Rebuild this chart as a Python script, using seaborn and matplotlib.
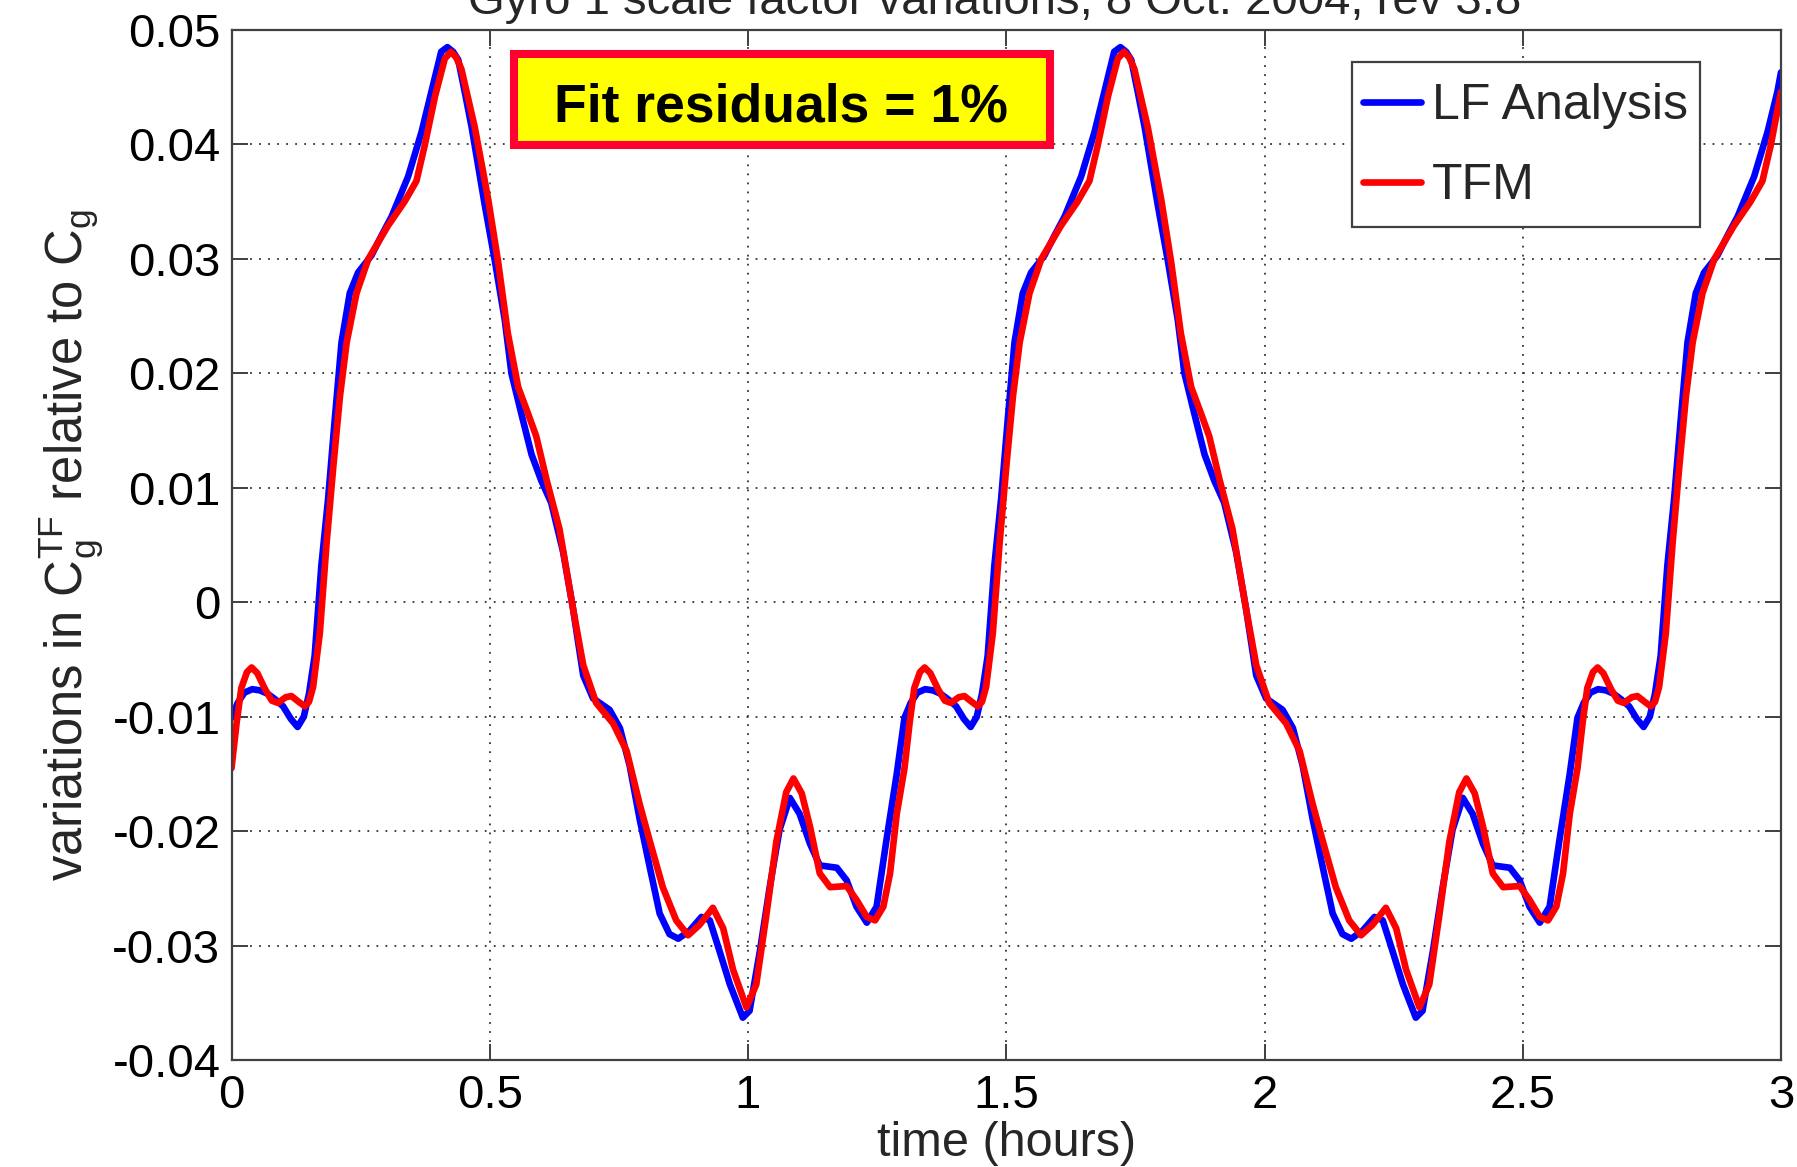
import matplotlib
matplotlib.use("Agg")
import matplotlib.pyplot as plt
import matplotlib.patches as mpatches
import seaborn as sns
import pandas as pd

# ---------------- data ----------------
lf_time = [
    0.000, 0.012, 0.025, 0.040, 0.055, 0.070, 0.085, 0.100, 0.115, 0.128, 0.140, 0.150,
    0.161, 0.174, 0.187, 0.200, 0.213, 0.229, 0.245, 0.271, 0.290, 0.310, 0.342, 0.368,
    0.387, 0.406, 0.418, 0.429, 0.439, 0.452, 0.465, 0.490, 0.510, 0.529, 0.542, 0.561,
    0.581, 0.600, 0.619, 0.642, 0.661, 0.681, 0.700, 0.732, 0.752, 0.771, 0.790, 0.810,
    0.829, 0.848, 0.865, 0.887, 0.910, 0.926, 0.945, 0.965, 0.990, 1.003, 1.023, 1.042,
    1.061, 1.081, 1.100, 1.120, 1.139, 1.172, 1.191, 1.210, 1.230, 1.249, 1.268, 1.288,
    1.303, 1.315, 1.328, 1.343, 1.358, 1.373, 1.388, 1.403, 1.418, 1.431, 1.443, 1.453,
    1.464, 1.477, 1.490, 1.503, 1.516, 1.532, 1.548, 1.574, 1.593, 1.613, 1.645, 1.671,
    1.690, 1.709, 1.721, 1.732, 1.742, 1.755, 1.768, 1.793, 1.813, 1.832, 1.845, 1.864,
    1.884, 1.903, 1.922, 1.945, 1.964, 1.984, 2.003, 2.035, 2.055, 2.074, 2.093, 2.113,
    2.132, 2.151, 2.168, 2.190, 2.213, 2.229, 2.248, 2.268, 2.293, 2.306, 2.326, 2.345,
    2.364, 2.384, 2.403, 2.423, 2.442, 2.475, 2.494, 2.513, 2.533, 2.552, 2.571, 2.591,
    2.606, 2.618, 2.631, 2.646, 2.661, 2.676, 2.691, 2.706, 2.721, 2.734, 2.746, 2.756,
    2.767, 2.780, 2.793, 2.806, 2.819, 2.835, 2.851, 2.877, 2.896, 2.916, 2.948, 2.974,
    2.993, 3.000,
]
lf_value = [
    -0.0101, -0.0088, -0.0079, -0.0076, -0.0077, -0.0080, -0.0085, -0.0091, -0.0102, -0.0109, -0.0100, -0.0080,
    -0.0047, 0.0032, 0.0090, 0.0160, 0.0227, 0.0270, 0.0288, 0.0303, 0.0320, 0.0337, 0.0372, 0.0411,
    0.0446, 0.0481, 0.0485, 0.0481, 0.0474, 0.0445, 0.0415, 0.0348, 0.0298, 0.0247, 0.0200, 0.0165,
    0.0129, 0.0106, 0.0087, 0.0044, -0.0005, -0.0064, -0.0084, -0.0094, -0.0110, -0.0143, -0.0189, -0.0232,
    -0.0272, -0.0290, -0.0294, -0.0287, -0.0275, -0.0278, -0.0305, -0.0334, -0.0363, -0.0357, -0.0305, -0.0249,
    -0.0199, -0.0171, -0.0185, -0.0211, -0.0230, -0.0232, -0.0243, -0.0266, -0.0280, -0.0266, -0.0208, -0.0150,
    -0.0101, -0.0088, -0.0079, -0.0076, -0.0077, -0.0080, -0.0085, -0.0091, -0.0102, -0.0109, -0.0100, -0.0080,
    -0.0047, 0.0032, 0.0090, 0.0160, 0.0227, 0.0270, 0.0288, 0.0303, 0.0320, 0.0337, 0.0372, 0.0411,
    0.0446, 0.0481, 0.0485, 0.0481, 0.0474, 0.0445, 0.0415, 0.0348, 0.0298, 0.0247, 0.0200, 0.0165,
    0.0129, 0.0106, 0.0087, 0.0044, -0.0005, -0.0064, -0.0084, -0.0094, -0.0110, -0.0143, -0.0189, -0.0232,
    -0.0272, -0.0290, -0.0294, -0.0287, -0.0275, -0.0278, -0.0305, -0.0334, -0.0363, -0.0357, -0.0305, -0.0249,
    -0.0199, -0.0171, -0.0185, -0.0211, -0.0230, -0.0232, -0.0243, -0.0266, -0.0280, -0.0266, -0.0208, -0.0150,
    -0.0101, -0.0088, -0.0079, -0.0076, -0.0077, -0.0080, -0.0085, -0.0091, -0.0102, -0.0109, -0.0100, -0.0080,
    -0.0047, 0.0032, 0.0090, 0.0160, 0.0227, 0.0270, 0.0288, 0.0303, 0.0320, 0.0337, 0.0372, 0.0411,
    0.0446, 0.0463,
]

tfm_time = [
    0.000, 0.010, 0.019, 0.030, 0.039, 0.050, 0.065, 0.078, 0.090, 0.105, 0.116, 0.130,
    0.142, 0.150, 0.158, 0.171, 0.184, 0.197, 0.210, 0.223, 0.242, 0.265, 0.303, 0.335,
    0.358, 0.374, 0.394, 0.413, 0.425, 0.435, 0.445, 0.471, 0.497, 0.516, 0.535, 0.555,
    0.574, 0.590, 0.610, 0.635, 0.661, 0.681, 0.706, 0.739, 0.765, 0.790, 0.810, 0.835,
    0.861, 0.884, 0.906, 0.932, 0.952, 0.971, 0.997, 1.016, 1.035, 1.055, 1.074, 1.088,
    1.104, 1.120, 1.139, 1.159, 1.191, 1.210, 1.230, 1.246, 1.262, 1.275, 1.288,
    1.303, 1.313, 1.322, 1.333, 1.342, 1.353, 1.368, 1.381, 1.393, 1.408, 1.419, 1.433,
    1.445, 1.453, 1.461, 1.474, 1.487, 1.500, 1.513, 1.526, 1.545, 1.568, 1.606, 1.638,
    1.661, 1.677, 1.697, 1.716, 1.728, 1.738, 1.748, 1.774, 1.800, 1.819, 1.838, 1.858,
    1.877, 1.893, 1.913, 1.938, 1.964, 1.984, 2.009, 2.042, 2.068, 2.093, 2.113, 2.138,
    2.164, 2.187, 2.209, 2.235, 2.255, 2.274, 2.300, 2.319, 2.338, 2.358, 2.377, 2.391,
    2.407, 2.423, 2.442, 2.462, 2.494, 2.513, 2.533, 2.549, 2.565, 2.578, 2.591,
    2.606, 2.616, 2.625, 2.636, 2.645, 2.656, 2.671, 2.684, 2.696, 2.711, 2.722, 2.736,
    2.748, 2.756, 2.764, 2.777, 2.790, 2.803, 2.816, 2.829, 2.848, 2.871, 2.909, 2.941,
    2.964, 2.980, 3.000,
]
tfm_value = [
    -0.0145, -0.0105, -0.0075, -0.0061, -0.0057, -0.0062, -0.0076, -0.0086, -0.0088, -0.0083, -0.0082, -0.0087,
    -0.0091, -0.0087, -0.0074, -0.0027, 0.0051, 0.0118, 0.0180, 0.0227, 0.0270, 0.0300, 0.0329, 0.0350,
    0.0368, 0.0399, 0.0442, 0.0475, 0.0481, 0.0476, 0.0466, 0.0415, 0.0352, 0.0298, 0.0235, 0.0188,
    0.0165, 0.0145, 0.0107, 0.0064, -0.0005, -0.0055, -0.0088, -0.0106, -0.0130, -0.0176, -0.0209, -0.0249,
    -0.0278, -0.0291, -0.0282, -0.0267, -0.0285, -0.0321, -0.0354, -0.0334, -0.0275, -0.0209, -0.0166, -0.0154,
    -0.0167, -0.0196, -0.0237, -0.0249, -0.0248, -0.0260, -0.0275, -0.0278, -0.0266, -0.0237, -0.0185,
    -0.0145, -0.0105, -0.0075, -0.0061, -0.0057, -0.0062, -0.0076, -0.0086, -0.0088, -0.0083, -0.0082, -0.0087,
    -0.0091, -0.0087, -0.0074, -0.0027, 0.0051, 0.0118, 0.0180, 0.0227, 0.0270, 0.0300, 0.0329, 0.0350,
    0.0368, 0.0399, 0.0442, 0.0475, 0.0481, 0.0476, 0.0466, 0.0415, 0.0352, 0.0298, 0.0235, 0.0188,
    0.0165, 0.0145, 0.0107, 0.0064, -0.0005, -0.0055, -0.0088, -0.0106, -0.0130, -0.0176, -0.0209, -0.0249,
    -0.0278, -0.0291, -0.0282, -0.0267, -0.0285, -0.0321, -0.0354, -0.0334, -0.0275, -0.0209, -0.0166, -0.0154,
    -0.0167, -0.0196, -0.0237, -0.0249, -0.0248, -0.0260, -0.0275, -0.0278, -0.0266, -0.0237, -0.0185,
    -0.0145, -0.0105, -0.0075, -0.0061, -0.0057, -0.0062, -0.0076, -0.0086, -0.0088, -0.0083, -0.0082, -0.0087,
    -0.0091, -0.0087, -0.0074, -0.0027, 0.0051, 0.0118, 0.0180, 0.0227, 0.0270, 0.0300, 0.0329, 0.0350,
    0.0368, 0.0399, 0.0446,
]

series_names = ["LF Analysis", "TFM"]
x_ticks = [0, 0.5, 1, 1.5, 2, 2.5, 3]
x_tick_labels = ["0", "0.5", "1", "1.5", "2", "2.5", "3"]
y_ticks = [-0.04, -0.03, -0.02, -0.01, 0, 0.01, 0.02, 0.03, 0.04, 0.05]
y_tick_labels = ["-0.04", "-0.03", "-0.02", "-0.01", "0", "0.01", "0.02", "0.03", "0.04", "0.05"]
title_text = "Gyro 1 scale factor variations, 8 Oct. 2004, rev 3.8"
annotation_text = "Fit residuals = 1%"

# ---------------- style ----------------
sns.set_theme(style="ticks")
plt.rcParams["font.family"] = ["Liberation Sans", "DejaVu Sans"]
plt.rcParams["mathtext.fontset"] = "custom"
plt.rcParams["mathtext.rm"] = "Liberation Sans"
plt.rcParams["axes.unicode_minus"] = False

W, H = 1797, 1167
fig = plt.figure(figsize=(W / 100, H / 100), dpi=100)
ax_l, ax_r, ax_t, ax_b = 231.5, 1781.0, 30.0, 1060.0
ax = fig.add_axes([ax_l / W, 1 - ax_b / H, (ax_r - ax_l) / W, (ax_b - ax_t) / H])

df_lf = pd.DataFrame({"time": lf_time, "value": lf_value, "series": series_names[0]})
df_tfm = pd.DataFrame({"time": tfm_time, "value": tfm_value, "series": series_names[1]})

line_kw = dict(lw=4.8, sort=False, estimator=None, solid_joinstyle="round", solid_capstyle="round")
sns.lineplot(data=df_lf, x="time", y="value", ax=ax, color="#0000FF",
             label=series_names[0], **line_kw)
sns.lineplot(data=df_tfm, x="time", y="value", ax=ax, color="#FF0000",
             label=series_names[1], **line_kw)

ax.set_xlim(0, 3)
ax.set_ylim(-0.04, 0.05)
ax.set_xticks(x_ticks)
ax.set_xticklabels(x_tick_labels)
ax.set_yticks(y_ticks)
ax.set_yticklabels(y_tick_labels)

ax.grid(True, linestyle=(0, (1, 4)), color="#333333", lw=1.3)
ax.tick_params(direction="in", top=True, right=True, length=11.5, width=1.4,
               color="#404040", labelsize=34, labelcolor="black", pad=10)
ax.tick_params(axis="y", pad=8)
for sp in ax.spines.values():
    sp.set_color("#404040")
    sp.set_linewidth(1.6)
    sp.set_visible(True)

ax.set_xlabel("time (hours)", fontsize=35, labelpad=2)
ax.set_ylabel(r"variations in C$_\mathregular{g}^\mathregular{TF}$ relative to C$_\mathregular{g}$",
              fontsize=36.5)
ax.yaxis.set_label_coords(-0.081, 0.5)

# title (clipped by the top of the figure, as in the reference)
fig.text(995 / W, 1 - 14.5 / H, title_text, ha="center", va="baseline", fontsize=34)

# legend frame (drawn as a box) and legend entries
leg_box = mpatches.Rectangle((1352 / W, 1 - 226.7 / H), 348 / W, 164.4 / H,
                             transform=fig.transFigure, facecolor="white",
                             edgecolor="#404040", lw=1.6, zorder=4.5, clip_on=False)
ax.add_patch(leg_box)
leg = ax.legend(loc="upper left", bbox_to_anchor=(1363 / W, 1 - 83 / H),
                bbox_transform=fig.transFigure, borderaxespad=0, fontsize=36,
                frameon=False, handlelength=1.15, handletextpad=0.23,
                borderpad=0, labelspacing=0.68)
leg.set_zorder(6)
for h in leg.get_lines():
    h.set_linewidth(4.8)

# annotation box
rect = mpatches.Rectangle((514 / W, 1 - 145 / H), 536 / W, 91 / H, transform=fig.transFigure,
                          facecolor="#FFFF00", edgecolor="#FF0030", lw=5.8, zorder=5)
fig.patches.append(rect)
fig.text(781 / W, 1 - 121.7 / H, annotation_text, ha="center", va="baseline",
         fontsize=38.5, fontweight="bold", color="black", zorder=6)

fig.savefig("out.png", dpi=100)
